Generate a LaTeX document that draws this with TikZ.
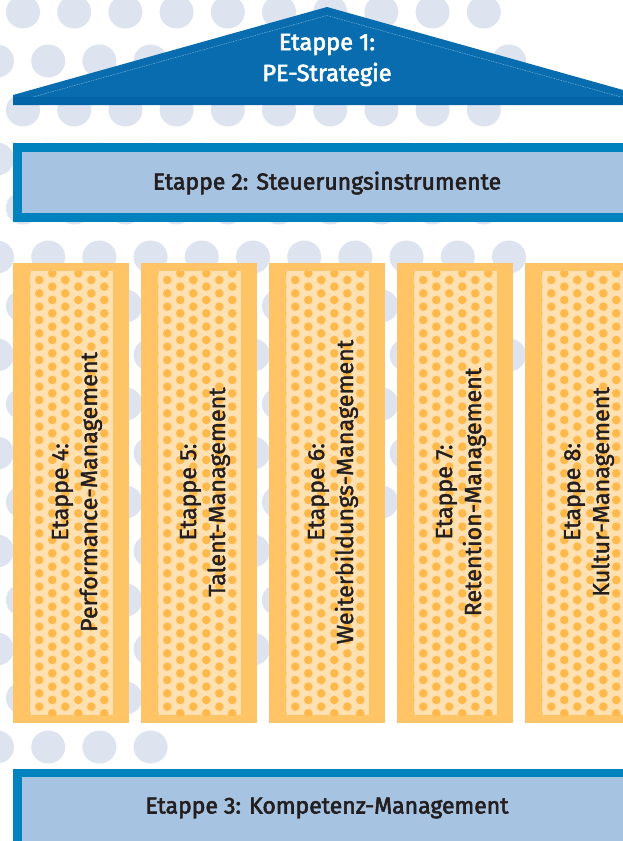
\documentclass[tikz,border=0pt]{standalone}
\usepackage{fontspec}
\setmainfont{Fira Sans}
\newfontfamily\medfont[FakeBold=2.5]{Fira Sans}
\newfontfamily\pilfont[FakeBold=1.5]{Fira Sans}
\definecolor{roofblue}{RGB}{8,108,174}
\definecolor{roofband}{RGB}{3,100,166}
\definecolor{frameblue}{RGB}{0,130,191}
\definecolor{lightblue}{RGB}{167,195,226}
\definecolor{bgdot}{RGB}{221,228,240}
\definecolor{pillarframe}{RGB}{254,196,102}
\definecolor{pillarbg}{RGB}{255,224,176}
\definecolor{pillardot}{RGB}{255,185,75}
\definecolor{textdark}{RGB}{35,31,32}
\tikzset{
  rooftext/.style={text=white, font=\medfont\fontsize{23.5}{31}\selectfont, align=center, inner sep=0pt},
  boxtext/.style={text=textdark, font=\medfont\fontsize{23}{27}\selectfont, inner sep=0pt},
  pillartext/.style={text=textdark, font=\pilfont\fontsize{23.3}{29}\selectfont, align=center, inner sep=0pt, rotate=90},
  bgcircle/.style={fill=bgdot},
  pdot/.style={fill=pillardot}
}
\begin{document}
\begin{tikzpicture}[x=1pt,y=-1pt]
\useasboundingbox (0,0) rectangle (623,841);
\fill[white] (0,0) rectangle (623,841);
% background dot pattern
\foreach \r in {0,...,15}{
  \pgfmathsetmacro\yy{12+49*\r}
  \pgfmathsetmacro\xo{ifthenelse(mod(\r,2)==0,23,-3)}
  \pgfmathsetmacro\xmax{min(520,390-1.04*(\yy-540))}
  \foreach \c in {0,...,11}{
    \pgfmathsetmacro\xx{\xo+51.2*\c}
    \pgfmathtruncatemacro\ok{\xx<=\xmax}
    \ifnum\ok=1 \fill[bgcircle] (\xx,\yy) ellipse (17pt and 16.5pt);\fi
  }
}
% roof
\fill[roofblue] (13,105) -- (13,95) -- (327,7) -- (641,95) -- (641,105) -- cycle;
\fill[roofband] (13,97) rectangle (641,105);
\draw[white, opacity=0.45, line width=0.5pt, dash pattern=on 1.5pt off 1pt] (33,97) -- (327,15.5) -- (621,97);
\node[rooftext] (e1) at (327,60) {Etappe 1:\\PE-Strategie};
% box 2
\fill[frameblue] (13,143) rectangle (641,222);
\fill[lightblue] (22,152) rectangle (632,213);
\node[boxtext] (e2) at (327,183) {Etappe 2: Steuerungsinstrumente};
% pillars
\foreach \l in {13,141,269,397,525}{
  \fill[pillarframe] (\l,263) rectangle (\l+116,723);
  \fill[pillarbg] (\l+16.5,271) rectangle (\l+100,715);
  \begin{scope}
    \clip (\l+16.5,271) rectangle (\l+100,715);
    \foreach \c in {0,...,7}{
      \pgfmathsetmacro\px{\l+13.3+13*\c}
      \pgfmathsetmacro\py{ifthenelse(mod(\c,2)==0,260,266.67)}
      \foreach \m in {0,...,35}{
        \fill[pdot] (\px,\py+13.333*\m) circle (4.3pt);
      }
    }
  \end{scope}
}
\node[pillartext] (e4) at (77,492) {Etappe 4:\\Performance-Management};
\node[pillartext] (e5) at (205,492) {Etappe 5:\\Talent-Management};
\node[pillartext] (e6) at (333,492) {Etappe 6:\\Weiterbildungs-Management};
\node[pillartext] (e7) at (461,492) {Etappe 7:\\Retention-Management};
\node[pillartext] (e8) at (589,492) {Etappe 8:\\Kultur-Management};
% box 3
\fill[frameblue] (13,769) rectangle (641,850);
\fill[lightblue] (22,777) rectangle (632,850);
\node[boxtext] (e3) at (327,808) {Etappe 3: Kompetenz-Management};
\end{tikzpicture}
\end{document}
